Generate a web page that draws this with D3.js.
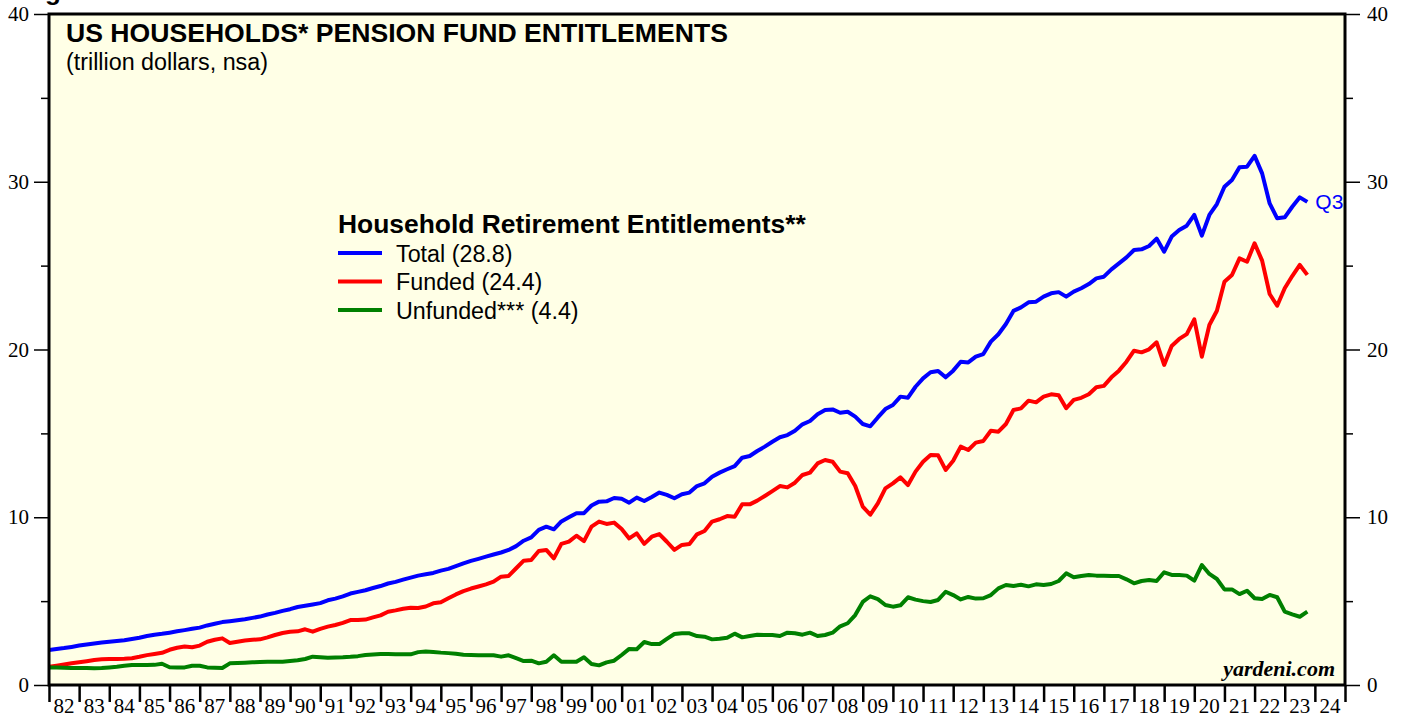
<!DOCTYPE html>
<html>
<head>
<meta charset="utf-8">
<script src="https://cdn.jsdelivr.net/npm/d3@7"></script>
<style>
  body { margin: 0; background: #fff; }
  svg { display: block; }
</style>
</head>
<body>
<svg id="chart" width="1405" height="717"></svg>
<script>
// quarterly values, first entry is 1981 Q4, last is 2023 Q3 (trillion dollars)
const startYear = 1981, startQuarter = 4;

const totalValues = [
  2.09,
  2.15, 2.20, 2.27, 2.35,  2.42, 2.48, 2.53, 2.58,  2.62, 2.67, 2.74, 2.82,
  2.92, 3.00, 3.05, 3.12,  3.20, 3.27, 3.35, 3.42,  3.55, 3.65, 3.75, 3.80,
  3.86, 3.92, 4.00, 4.08,  4.20, 4.30, 4.42, 4.52,  4.65, 4.72, 4.80, 4.88,
  5.05, 5.15, 5.28, 5.45,  5.55, 5.65, 5.78, 5.90,  6.05, 6.15, 6.28, 6.40,
  6.52, 6.60, 6.68, 6.82,  6.92, 7.08, 7.25, 7.40,  7.52, 7.65, 7.78, 7.90,
  8.05, 8.28, 8.60, 8.80,  9.25, 9.44, 9.28, 9.75,  10.00, 10.24, 10.24, 10.70,
  10.93, 10.95, 11.15, 11.10,  10.87, 11.17, 10.97, 11.21,  11.47, 11.33, 11.13, 11.37,
  11.47, 11.86, 12.02, 12.42,  12.66, 12.86, 13.05, 13.55,  13.65, 13.95, 14.21, 14.50,
  14.77, 14.90, 15.16, 15.54,  15.74, 16.14, 16.39, 16.43,  16.23, 16.29, 16.00, 15.56,
  15.42, 15.95, 16.45, 16.69,  17.19, 17.13, 17.78, 18.28,  18.64, 18.72, 18.34, 18.74,
  19.27, 19.23, 19.57, 19.73,  20.47, 20.91, 21.52, 22.30,  22.51, 22.81, 22.85, 23.15,
  23.35, 23.42, 23.15, 23.45,  23.65, 23.90, 24.24, 24.34,  24.78, 25.13, 25.49, 25.93,
  25.97, 26.17, 26.61, 25.83,  26.73, 27.12, 27.38, 28.02,  26.79, 28.02, 28.67, 29.70,
  30.10, 30.86, 30.90, 31.54,  30.50, 28.71, 27.82, 27.88,  28.51, 29.07, 28.80
];

const fundedValues = [
  1.09,
  1.15, 1.22, 1.30, 1.36,  1.42, 1.49, 1.53, 1.55,  1.55, 1.57, 1.60, 1.68,
  1.78, 1.85, 1.92, 2.10,  2.22, 2.29, 2.25, 2.35,  2.58, 2.70, 2.78, 2.50,
  2.58, 2.65, 2.70, 2.72,  2.84, 2.98, 3.10, 3.18,  3.20, 3.32, 3.18, 3.35,
  3.48, 3.58, 3.70, 3.87,  3.87, 3.90, 4.03, 4.15,  4.37, 4.45, 4.55, 4.61,
  4.59, 4.68, 4.87, 4.93,  5.17, 5.40, 5.60, 5.75,  5.87, 6.00, 6.16, 6.46,
  6.50, 6.96, 7.41, 7.45,  7.99, 8.05, 7.55, 8.41,  8.55, 8.90, 8.58, 9.44,
  9.74, 9.60, 9.68, 9.30,  8.74, 9.04, 8.41, 8.84,  9.00, 8.54, 8.05, 8.35,
  8.41, 8.98, 9.18, 9.74,  9.88, 10.07, 10.03, 10.77,  10.77, 10.99, 11.27, 11.56,
  11.86, 11.78, 12.06, 12.52,  12.66, 13.21, 13.41, 13.31,  12.72, 12.62, 11.86, 10.63,
  10.15, 10.83, 11.72, 12.02,  12.38, 11.92, 12.72, 13.31,  13.71, 13.69, 12.82, 13.37,
  14.21, 14.01, 14.45, 14.55,  15.16, 15.10, 15.56, 16.39,  16.49, 16.95, 16.85, 17.19,
  17.33, 17.27, 16.50, 17.00,  17.12, 17.33, 17.75, 17.83,  18.34, 18.74, 19.27, 19.93,
  19.83, 20.01, 20.43, 19.08,  20.21, 20.63, 20.92, 21.80,  19.57, 21.46, 22.31, 24.04,
  24.44, 25.43, 25.23, 26.33,  25.30, 23.31, 22.61, 23.65,  24.38, 25.04, 24.45
];

const unfundedValues = [
  1.05,
  1.04, 1.03, 1.02, 1.02,  1.01, 1.00, 1.01, 1.05,  1.09, 1.15, 1.19, 1.19,
  1.19, 1.20, 1.27, 1.06,  1.05, 1.05, 1.15, 1.15,  1.05, 1.03, 1.01, 1.29,
  1.31, 1.33, 1.35, 1.37,  1.39, 1.39, 1.39, 1.43,  1.47, 1.55, 1.69, 1.66,
  1.63, 1.64, 1.65, 1.68,  1.72, 1.79, 1.82, 1.85,  1.85, 1.84, 1.83, 1.83,
  1.96, 1.99, 1.97, 1.93,  1.90, 1.86, 1.80, 1.79,  1.78, 1.78, 1.77, 1.69,
  1.77, 1.60, 1.43, 1.45,  1.29, 1.39, 1.77, 1.39,  1.39, 1.39, 1.65, 1.25,
  1.17, 1.35, 1.45, 1.79,  2.15, 2.13, 2.56, 2.44,  2.44, 2.75, 3.04, 3.08,
  3.08, 2.92, 2.88, 2.72,  2.76, 2.82, 3.06, 2.84,  2.92, 3.00, 2.98, 2.98,
  2.92, 3.12, 3.08, 3.00,  3.12, 2.92, 2.98, 3.12,  3.50, 3.68, 4.17, 4.95,
  5.29, 5.12, 4.77, 4.67,  4.75, 5.23, 5.09, 5.00,  4.95, 5.07, 5.56, 5.36,
  5.10, 5.25, 5.15, 5.17,  5.36, 5.76, 5.96, 5.90,  5.98, 5.88, 6.00, 5.96,
  6.02, 6.20, 6.66, 6.42,  6.50, 6.56, 6.52, 6.52,  6.50, 6.50, 6.30, 6.06,
  6.20, 6.26, 6.20, 6.72,  6.56, 6.56, 6.52, 6.22,  7.15, 6.62, 6.32, 5.70,
  5.70, 5.42, 5.62, 5.17,  5.13, 5.37, 5.23, 4.37,  4.21, 4.07, 4.37
];

const yearLabels = ["82","83","84","85","86","87","88","89","90","91","92","93","94","95",
  "96","97","98","99","00","01","02","03","04","05","06","07","08","09","10","11",
  "12","13","14","15","16","17","18","19","20","21","22","23","24"];
const yTicks = [0, 10, 20, 30, 40];
const yMinorTicks = [5, 15, 25, 35];

const seriesNames = ["Total (28.8)", "Funded (24.4)", "Unfunded*** (4.4)"];
const seriesColors = ["#0000ff", "#ff0000", "#008000"];

const plot = {left: 49, right: 1345, top: 14, bottom: 685};

const svg = d3.select("#chart");

const x = d3.scaleLinear()
    .domain([1982, 2025])
    .range([plot.left, plot.right]);

const y = d3.scaleLinear()
    .domain([0, 40])
    .range([plot.bottom, plot.top]);

// plot background
svg.append("rect")
    .attr("x", plot.left)
    .attr("y", plot.top)
    .attr("width", plot.right - plot.left)
    .attr("height", plot.bottom - plot.top)
    .attr("fill", "#ffffe6");

svg.append("clipPath").attr("id", "plotclip")
  .append("rect")
    .attr("x", plot.left)
    .attr("y", plot.top)
    .attr("width", plot.right - plot.left)
    .attr("height", plot.bottom - plot.top);

// quarter dates, plotted at end of each quarter
const dates = totalValues.map((d, i) => {
    const q = startQuarter + i;
    return startYear + q / 4;
});

const line = d3.line()
    .x(d => x(d.date))
    .y(d => y(d.value));

const lines = svg.append("g").attr("clip-path", "url(#plotclip)");
[totalValues, fundedValues, unfundedValues].forEach((vals, i) => {
    const pts = vals.map((v, j) => ({date: dates[j], value: v}));
    lines.append("path")
        .datum(pts)
        .attr("fill", "none")
        .attr("stroke", seriesColors[i])
        .attr("stroke-width", 4)
        .attr("stroke-linejoin", "round")
        .attr("d", line);
});

// axes
const tickFont = "'Liberation Serif', 'Times New Roman', serif";

function styleAxis(g) {
    g.select(".domain").remove();
    g.selectAll("line").attr("stroke", "#000").attr("stroke-width", 1.5);
    g.selectAll("text")
        .attr("fill", "#000")
        .style("font-family", tickFont)
        .style("font-size", "21px");
}

svg.append("g")
    .attr("transform", `translate(${plot.left},0)`)
    .call(d3.axisLeft(y).tickValues(yTicks).tickSize(15).tickPadding(5))
    .call(styleAxis);
svg.append("g")
    .attr("transform", `translate(${plot.left},0)`)
    .call(d3.axisLeft(y).tickValues(yMinorTicks).tickSize(8).tickFormat(""))
    .call(styleAxis);

svg.append("g")
    .attr("transform", `translate(${plot.right},0)`)
    .call(d3.axisRight(y).tickValues(yTicks).tickSize(15).tickPadding(7))
    .call(styleAxis);
svg.append("g")
    .attr("transform", `translate(${plot.right},0)`)
    .call(d3.axisRight(y).tickValues(yMinorTicks).tickSize(8).tickFormat(""))
    .call(styleAxis);

const yearTicks = d3.range(1982, 2026);
svg.append("g")
    .attr("transform", `translate(0,${plot.bottom})`)
    .call(d3.axisBottom(x).tickValues(yearTicks).tickSize(17).tickFormat(""))
    .call(styleAxis)
    .selectAll("line").attr("stroke-width", 2.5);

svg.append("g").selectAll("text")
    .data(yearLabels)
    .join("text")
    .attr("x", (d, i) => x(1982 + i + 0.5))
    .attr("y", 713)
    .attr("text-anchor", "middle")
    .style("font-family", tickFont)
    .style("font-size", "21px")
    .text(d => d);

// frame
svg.append("rect")
    .attr("x", plot.left)
    .attr("y", plot.top)
    .attr("width", plot.right - plot.left)
    .attr("height", plot.bottom - plot.top)
    .attr("fill", "none")
    .attr("stroke", "#000")
    .attr("stroke-width", 3);

// titles
const sans = "'Liberation Sans', Arial, sans-serif";

// figure caption sits above the page edge, only its descender shows
svg.append("text")
    .attr("x", 22).attr("y", 0)
    .style("font-family", sans)
    .style("font-weight", "bold")
    .style("font-size", "26px")
    .text("Figure 1.");

svg.append("text")
    .attr("x", 66).attr("y", 42)
    .style("font-family", sans)
    .style("font-weight", "bold")
    .style("font-size", "26.6px")
    .text("US HOUSEHOLDS* PENSION FUND ENTITLEMENTS");

svg.append("text")
    .attr("x", 66).attr("y", 70)
    .style("font-family", sans)
    .style("font-size", "23.3px")
    .text("(trillion dollars, nsa)");

// legend
const legend = svg.append("g").attr("transform", "translate(338,0)");
legend.append("text")
    .attr("x", 0).attr("y", 233)
    .style("font-family", sans)
    .style("font-weight", "bold")
    .style("font-size", "26.4px")
    .text("Household Retirement Entitlements**");

seriesNames.forEach((name, i) => {
    const ly = 253 + i * 28.5;
    legend.append("line")
        .attr("x1", 0).attr("x2", 44)
        .attr("y1", ly).attr("y2", ly)
        .attr("stroke", seriesColors[i])
        .attr("stroke-width", 4);
    legend.append("text")
        .attr("x", 58).attr("y", ly + 8.5)
        .style("font-family", sans)
        .style("font-size", "23.3px")
        .text(name);
});

// end label
svg.append("text")
    .attr("x", x(dates[dates.length - 1]) + 8)
    .attr("y", y(totalValues[totalValues.length - 1]) + 7)
    .attr("fill", "#0000ff")
    .style("font-family", sans)
    .style("font-size", "21px")
    .text("Q3");

svg.append("text")
    .attr("x", 1335).attr("y", 676)
    .attr("text-anchor", "end")
    .style("font-family", tickFont)
    .style("font-weight", "bold")
    .style("font-style", "italic")
    .style("font-size", "22px")
    .text("yardeni.com");
</script>
</body>
</html>
